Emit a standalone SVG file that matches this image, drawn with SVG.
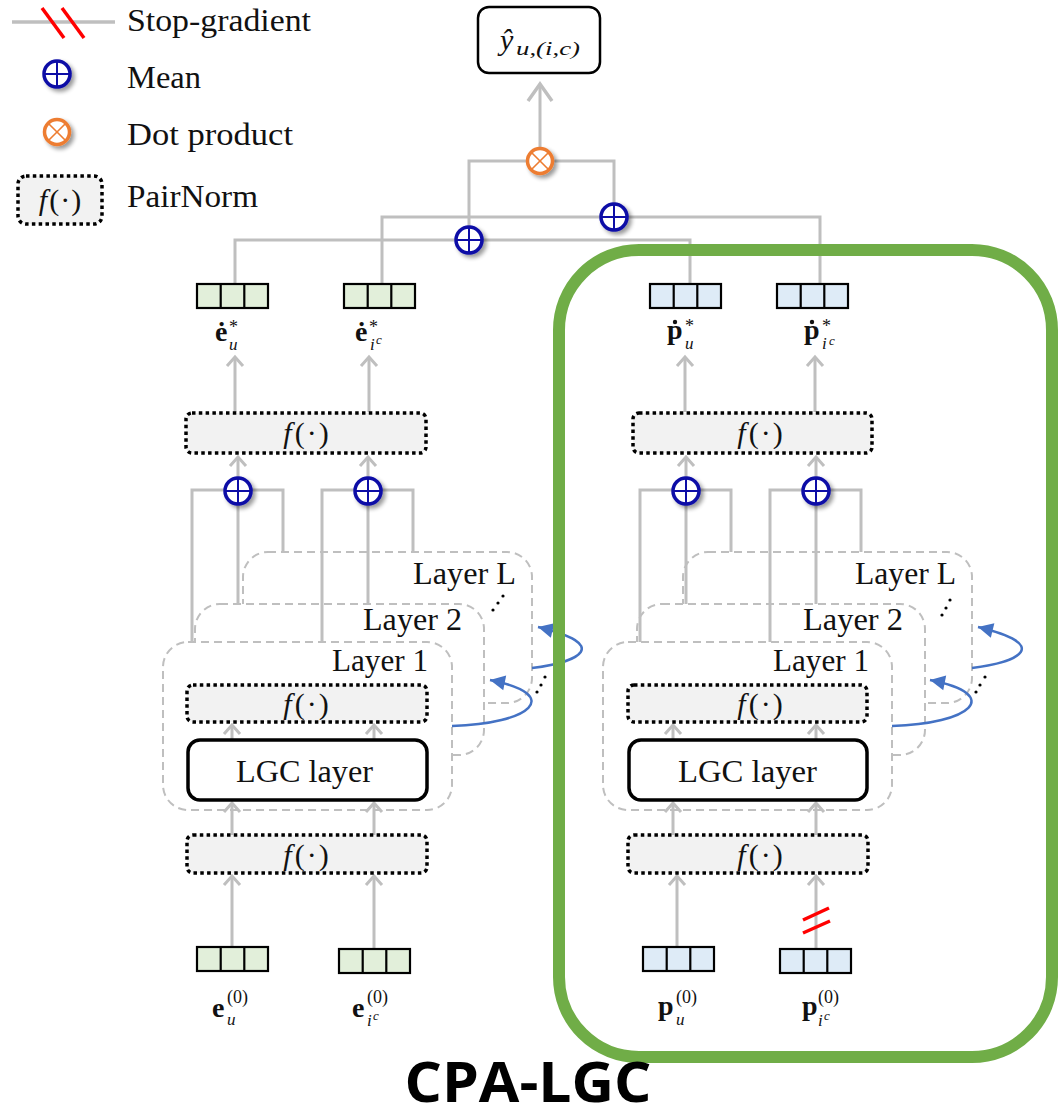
<svg xmlns="http://www.w3.org/2000/svg" width="1059" height="1119" viewBox="0 0 1059 1119">
  <style>
    .serif { font-family: "Liberation Serif", "Times New Roman", serif; fill: #111; }
    .lbl { font-size: 31px; }
    .wire { fill: none; stroke: #bfbfbf; stroke-width: 3; }
    .arr { fill: none; stroke: #bfbfbf; stroke-width: 3; marker-end: url(#ah); }
    .loop { fill: none; stroke: #4472c4; stroke-width: 2.5; marker-end: url(#ab); }
    .layer { fill: #fff; stroke: #bfbfbf; stroke-width: 2; stroke-dasharray: 8 5; }
    .pn { fill: #f2f2f2; stroke: #000; stroke-width: 3.5; stroke-dasharray: 3.5 3.3; }
    .lgc { fill: #fff; stroke: #000; stroke-width: 3.5; }
    .sg { stroke: #ff0000; stroke-width: 3.5; }
    .dot { fill: #000; }
    .acc { fill: #111; }
    .b { font-weight: bold; }
    .it { font-style: italic; }
  </style>
  <defs>
    <marker id="ah" markerUnits="userSpaceOnUse" orient="auto" refX="0" refY="0" markerWidth="20" markerHeight="20" overflow="visible">
      <path d="M-9,-8 L0,0 L-9,8" fill="none" stroke="#bfbfbf" stroke-width="3"/>
    </marker>
    <marker id="ahL" markerUnits="userSpaceOnUse" orient="auto" refX="0" refY="0" markerWidth="30" markerHeight="30" overflow="visible">
      <path d="M-17,-12 L0,0 L-17,12" fill="none" stroke="#bfbfbf" stroke-width="3.5"/>
    </marker>
    <marker id="ab" markerUnits="userSpaceOnUse" orient="auto" refX="0" refY="0" markerWidth="20" markerHeight="20" overflow="visible">
      <path d="M-15,-7.5 L0,0 L-15,7.5 z" fill="#4472c4"/>
    </marker>
    <filter id="sh" x="-60%" y="-60%" width="220%" height="220%">
      <feGaussianBlur in="SourceAlpha" stdDeviation="2"/>
      <feOffset dx="3" dy="3"/>
      <feComponentTransfer><feFuncA type="linear" slope="0.4"/></feComponentTransfer>
      <feMerge><feMergeNode/><feMergeNode in="SourceGraphic"/></feMerge>
    </filter>
    <!-- mean operator: circled plus -->
    <g id="mean" filter="url(#sh)">
      <circle r="13" fill="#fff" stroke="#0a0aa6" stroke-width="3.5"/>
      <path d="M-13,0 H13 M0,-13 V13" stroke="#0a0aa6" stroke-width="2"/>
    </g>
    <!-- dot product operator: circled times -->
    <g id="dotp" filter="url(#sh)">
      <circle r="12.5" fill="#fff" stroke="#ed7d31" stroke-width="3.5"/>
      <path d="M-8.8,-8.8 L8.8,8.8 M8.8,-8.8 L-8.8,8.8" stroke="#ed7d31" stroke-width="1.6"/>
    </g>
    <!-- three-cell embedding vectors -->
    <g id="cellsG" stroke="#000" stroke-width="2.2">
      <rect x="0" y="0" width="71" height="24" fill="#e2efda"/>
      <line x1="23.7" y1="0" x2="23.7" y2="24"/>
      <line x1="47.3" y1="0" x2="47.3" y2="24"/>
    </g>
    <g id="cellsB" stroke="#000" stroke-width="2.2">
      <rect x="0" y="0" width="71" height="24" fill="#deebf7"/>
      <line x1="23.7" y1="0" x2="23.7" y2="24"/>
      <line x1="47.3" y1="0" x2="47.3" y2="24"/>
    </g>
  </defs>

  <rect width="1059" height="1119" fill="#fff"/>

  <!-- legend -->
  <g id="legend">
    <line x1="12" y1="22" x2="115" y2="22" stroke="#bfbfbf" stroke-width="3.5"/>
    <line class="sg" x1="42" y1="8" x2="64" y2="38"/>
    <line class="sg" x1="62" y1="8" x2="84" y2="38"/>
    <text class="serif lbl" x="127" y="31" textLength="184" lengthAdjust="spacingAndGlyphs">Stop-gradient</text>
    <use href="#mean" x="57" y="74"/>
    <text class="serif lbl" x="127" y="88" textLength="74" lengthAdjust="spacingAndGlyphs">Mean</text>
    <use href="#dotp" x="57" y="132"/>
    <text class="serif lbl" x="127" y="145" textLength="166" lengthAdjust="spacingAndGlyphs">Dot product</text>
    <rect class="pn" x="18" y="176" width="84" height="48" rx="8"/>
    <text class="serif" font-size="30" x="60" y="210" text-anchor="middle"><tspan class="it">f</tspan><tspan dx="2">(</tspan><tspan dx="1">·</tspan><tspan dx="1">)</tspan></text>
    <text class="serif lbl" x="127" y="207" textLength="131" lengthAdjust="spacingAndGlyphs">PairNorm</text>
  </g>

  <!-- layer stacks (drawn back to front) -->
  <g id="layers-left">
    <rect class="layer" x="243" y="552" width="289" height="151" rx="25"/>
    <rect class="layer" x="195" y="604" width="289" height="151" rx="25"/>
    <rect class="layer" x="163" y="642" width="289" height="168" rx="25"/>
    <text class="serif lbl" x="413" y="584" textLength="103" lengthAdjust="spacingAndGlyphs">Layer L</text>
    <text class="serif lbl" x="363" y="630" textLength="99" lengthAdjust="spacingAndGlyphs">Layer 2</text>
    <text class="serif lbl" x="332" y="671" textLength="96" lengthAdjust="spacingAndGlyphs">Layer 1</text>
    <circle class="dot" cx="493" cy="610" r="1.6"/>
    <circle class="dot" cx="498" cy="603" r="1.6"/>
    <circle class="dot" cx="503" cy="596" r="1.6"/>
    <circle class="dot" cx="537" cy="692" r="1.6"/>
    <circle class="dot" cx="541" cy="685" r="1.6"/>
    <circle class="dot" cx="545" cy="677" r="1.6"/>
  </g>
  <g id="layers-right">
    <rect class="layer" x="683" y="552" width="289" height="151" rx="25"/>
    <rect class="layer" x="637" y="604" width="288" height="151" rx="25"/>
    <rect class="layer" x="603" y="642" width="289" height="168" rx="25"/>
    <text class="serif lbl" x="855" y="584" textLength="101" lengthAdjust="spacingAndGlyphs">Layer L</text>
    <text class="serif lbl" x="803" y="630" textLength="100" lengthAdjust="spacingAndGlyphs">Layer 2</text>
    <text class="serif lbl" x="773" y="671" textLength="96" lengthAdjust="spacingAndGlyphs">Layer 1</text>
    <circle class="dot" cx="942" cy="615" r="1.6"/>
    <circle class="dot" cx="946" cy="608" r="1.6"/>
    <circle class="dot" cx="950" cy="600" r="1.6"/>
    <circle class="dot" cx="976" cy="692" r="1.6"/>
    <circle class="dot" cx="980" cy="685" r="1.6"/>
    <circle class="dot" cx="985" cy="677" r="1.6"/>
  </g>

  <!-- connectors -->
  <g id="connectors">
    <path class="wire" stroke-width="3.5" d="M540,161 V84" marker-end="url(#ahL)"/>
    <path class="wire" d="M469,240 V161 H614 V217"/>
    <path class="wire" d="M235,285 V240 H690 V285"/>
    <path class="wire" d="M382,285 V217 H820 V285"/>
    <path class="arr" d="M235,412 V357"/>
    <path class="arr" d="M369,412 V357"/>
    <path class="arr" d="M685,412 V357"/>
    <path class="arr" d="M815,412 V357"/>
    <path class="arr" d="M238,604 V457"/>
    <path class="arr" d="M368,604 V457"/>
    <path class="arr" d="M686,604 V457"/>
    <path class="arr" d="M816,604 V457"/>
    <path class="wire" d="M192,642 V490 H283 V552"/>
    <path class="wire" d="M322,642 V490 H413 V552"/>
    <path class="wire" d="M640,642 V490 H731 V552"/>
    <path class="wire" d="M770,642 V490 H861 V552"/>
    <path class="arr" d="M232,740 V725"/>
    <path class="arr" d="M374,740 V725"/>
    <path class="arr" d="M673,740 V725"/>
    <path class="arr" d="M816,740 V725"/>
    <path class="arr" d="M232,835 V803"/>
    <path class="arr" d="M374,835 V803"/>
    <path class="arr" d="M673,835 V803"/>
    <path class="arr" d="M816,835 V803"/>
    <path class="arr" d="M232,947 V876"/>
    <path class="arr" d="M374,949 V876"/>
    <path class="arr" d="M677,947 V876"/>
    <path class="arr" d="M816,949 V876"/>
    <line class="sg" x1="803" y1="920" x2="829" y2="908"/>
    <line class="sg" x1="803" y1="933" x2="830" y2="921"/>
    <path class="loop" d="M452,726 C530,724 565,695 490,680"/>
    <path class="loop" d="M532,668 C580,662 612,645 538,627"/>
    <path class="loop" d="M892,726 C970,724 1005,695 930,680"/>
    <path class="loop" d="M972,668 C1020,662 1052,645 978,627"/>
  </g>

  <!-- prediction output -->
  <g id="output">
    <rect x="478" y="7" width="122" height="66" rx="11" fill="#fff" stroke="#000" stroke-width="2.5"/>
    <text class="serif it" font-size="30" x="500" y="50">ŷ</text>
    <text class="serif it" font-size="18" x="516" y="55" textLength="64" lengthAdjust="spacingAndGlyphs">u,(i,c)</text>
  </g>
  <g id="op-dot"><use href="#dotp" x="540" y="161"/></g>
  <g id="op-mean-top-u"><use href="#mean" x="469" y="240"/></g>
  <g id="op-mean-top-i"><use href="#mean" x="614" y="217"/></g>

  <!-- final embeddings -->
  <g id="e-star-u">
    <use href="#cellsG" x="197" y="284"/>
    <text class="serif b" font-size="28" x="215" y="341">ė</text>
    <text class="serif" font-size="18" x="229" y="333">*</text>
    <text class="serif it" font-size="17" x="229" y="350">u</text>
  </g>
  <g id="e-star-ic">
    <use href="#cellsG" x="344" y="284"/>
    <text class="serif b" font-size="28" x="355" y="341">ė</text>
    <text class="serif" font-size="18" x="369" y="333">*</text>
    <text class="serif it" font-size="17" x="370" y="350">i</text>
    <text class="serif it" font-size="13" x="376" y="344">c</text>
  </g>
  <g id="p-star-u">
    <use href="#cellsB" x="650" y="284"/>
    <text class="serif b" font-size="28" x="667" y="339">p</text>
    <circle class="acc" cx="675" cy="322" r="2.2"/>
    <text class="serif" font-size="18" x="685" y="332">*</text>
    <text class="serif it" font-size="17" x="685" y="349">u</text>
  </g>
  <g id="p-star-ic">
    <use href="#cellsB" x="777" y="284"/>
    <text class="serif b" font-size="28" x="804" y="339">p</text>
    <circle class="acc" cx="812" cy="322" r="2.2"/>
    <text class="serif" font-size="18" x="822" y="332">*</text>
    <text class="serif it" font-size="17" x="822" y="349">i</text>
    <text class="serif it" font-size="13" x="829" y="345">c</text>
  </g>

  <!-- user/item branch (left) -->
  <g id="pn-top-left">
    <rect class="pn" x="186" y="413" width="240" height="40" rx="6"/>
    <text class="serif" font-size="30" x="306" y="443" text-anchor="middle"><tspan class="it">f</tspan><tspan dx="3">(</tspan><tspan dx="2">·</tspan><tspan dx="2">)</tspan></text>
  </g>
  <g id="mean-left-u"><use href="#mean" x="238" y="491"/></g>
  <g id="mean-left-i"><use href="#mean" x="368" y="491"/></g>
  <g id="pn-layer-left">
    <rect class="pn" x="187" y="685" width="240" height="37" rx="6"/>
    <text class="serif" font-size="30" x="306" y="714" text-anchor="middle"><tspan class="it">f</tspan><tspan dx="3">(</tspan><tspan dx="2">·</tspan><tspan dx="2">)</tspan></text>
  </g>
  <g id="lgc-left">
    <rect class="lgc" x="188" y="740" width="239" height="60" rx="12"/>
    <text class="serif lbl" x="236" y="782" textLength="137" lengthAdjust="spacingAndGlyphs">LGC layer</text>
  </g>
  <g id="pn-bottom-left">
    <rect class="pn" x="187" y="835" width="240" height="38" rx="6"/>
    <text class="serif" font-size="30" x="306" y="865" text-anchor="middle"><tspan class="it">f</tspan><tspan dx="3">(</tspan><tspan dx="2">·</tspan><tspan dx="2">)</tspan></text>
  </g>
  <g id="e0-u">
    <use href="#cellsG" x="197" y="947"/>
    <text class="serif b" font-size="28" x="212" y="1017">e</text>
    <text class="serif" font-size="18" x="227" y="1003">(0)</text>
    <text class="serif it" font-size="17" x="227" y="1025">u</text>
  </g>
  <g id="e0-ic">
    <use href="#cellsG" x="339" y="949"/>
    <text class="serif b" font-size="28" x="352" y="1017">e</text>
    <text class="serif" font-size="18" x="367" y="1003">(0)</text>
    <text class="serif it" font-size="17" x="367" y="1026">i</text>
    <text class="serif it" font-size="13" x="373" y="1020">c</text>
  </g>

  <!-- popularity branch (right) -->
  <g id="pn-top-right">
    <rect class="pn" x="633" y="413" width="239" height="40" rx="6"/>
    <text class="serif" font-size="30" x="760" y="443" text-anchor="middle"><tspan class="it">f</tspan><tspan dx="3">(</tspan><tspan dx="2">·</tspan><tspan dx="2">)</tspan></text>
  </g>
  <g id="mean-right-u"><use href="#mean" x="686" y="491"/></g>
  <g id="mean-right-i"><use href="#mean" x="816" y="491"/></g>
  <g id="pn-layer-right">
    <rect class="pn" x="628" y="685" width="239" height="37" rx="6"/>
    <text class="serif" font-size="30" x="760" y="714" text-anchor="middle"><tspan class="it">f</tspan><tspan dx="3">(</tspan><tspan dx="2">·</tspan><tspan dx="2">)</tspan></text>
  </g>
  <g id="lgc-right">
    <rect class="lgc" x="629" y="740" width="238" height="60" rx="12"/>
    <text class="serif lbl" x="678" y="782" textLength="139" lengthAdjust="spacingAndGlyphs">LGC layer</text>
  </g>
  <g id="pn-bottom-right">
    <rect class="pn" x="628" y="835" width="240" height="38" rx="6"/>
    <text class="serif" font-size="30" x="760" y="865" text-anchor="middle"><tspan class="it">f</tspan><tspan dx="3">(</tspan><tspan dx="2">·</tspan><tspan dx="2">)</tspan></text>
  </g>
  <g id="p0-u">
    <use href="#cellsB" x="643" y="947"/>
    <text class="serif b" font-size="28" x="658" y="1015">p</text>
    <text class="serif" font-size="18" x="676" y="1003">(0)</text>
    <text class="serif it" font-size="17" x="676" y="1025">u</text>
  </g>
  <g id="p0-ic">
    <use href="#cellsB" x="780" y="949"/>
    <text class="serif b" font-size="28" x="802" y="1015">p</text>
    <text class="serif" font-size="18" x="818" y="1003">(0)</text>
    <text class="serif it" font-size="17" x="818" y="1026">i</text>
    <text class="serif it" font-size="13" x="824" y="1020">c</text>
  </g>

  <!-- CPA-LGC module frame -->
  <g id="cpa-lgc">
    <rect x="559" y="250" width="493" height="807" rx="80" fill="none" stroke="#70ad47" stroke-width="12"/>
    <text x="528" y="1102" text-anchor="middle" font-family="'Open Sans', 'Liberation Sans', sans-serif" font-weight="bold" font-size="56" fill="#000" textLength="247" lengthAdjust="spacingAndGlyphs">CPA-LGC</text>
  </g>
</svg>
